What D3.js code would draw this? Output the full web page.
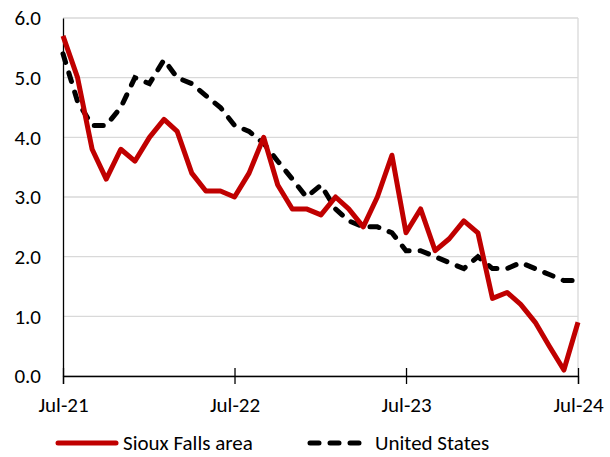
<!DOCTYPE html>
<html>
<head>
<meta charset="utf-8">
<script src="https://cdn.jsdelivr.net/npm/d3@7"></script>
<style>
  body { margin: 0; background: #fff; }
  text { font-family: Carlito, Calibri, "Liberation Sans", sans-serif; fill: #000; }
</style>
</head>
<body>
<div id="chart"></div>
<script>
// monthly, Jul-21 .. Jul-24
var startMonth = new Date(2021, 6, 1);
var siouxFalls = [5.7, 5.0, 3.8, 3.3, 3.8, 3.6, 4.0, 4.3, 4.1, 3.4, 3.1, 3.1, 3.0,
                  3.4, 4.0, 3.2, 2.8, 2.8, 2.7, 3.0, 2.8, 2.5, 3.0, 3.7, 2.4,
                  2.8, 2.1, 2.3, 2.6, 2.4, 1.3, 1.4, 1.2, 0.9, 0.5, 0.1, 0.9];
var unitedStates = [5.4, 4.6, 4.2, 4.2, 4.5, 5.0, 4.9, 5.3, 5.0, 4.9, 4.7, 4.5, 4.2,
                    4.1, 3.9, 3.6, 3.3, 3.0, 3.2, 2.8, 2.6, 2.5, 2.5, 2.4, 2.1,
                    2.1, 2.0, 1.9, 1.8, 2.0, 1.8, 1.8, 1.9, 1.8, 1.7, 1.6, 1.6];
var xTickLabels = ["Jul-21", "Jul-22", "Jul-23", "Jul-24"];
var yTicks = [0, 1, 2, 3, 4, 5, 6];
var seriesNames = ["Sioux Falls area", "United States"];

var width = 610, height = 457;
var margin = {top: 18, right: 32, bottom: 81, left: 63};
var w = width - margin.left - margin.right,
    h = height - margin.top - margin.bottom;
var fontSize = "21px";

var svg = d3.select("#chart").append("svg")
    .attr("width", width)
    .attr("height", height);

var g = svg.append("g")
    .attr("transform", "translate(" + margin.left + "," + margin.top + ")");

var dates = siouxFalls.map(function(d, i) { return d3.timeMonth.offset(startMonth, i); });

var x = d3.scaleTime()
    .domain([dates[0], dates[dates.length - 1]])
    .range([0, w]);
var y = d3.scaleLinear()
    .domain([0, 6])
    .range([h, 0]);

// gridlines
g.append("g")
    .selectAll("line")
    .data(yTicks)
    .enter()
    .append("line")
        .attr("x1", 0)
        .attr("x2", w)
        .attr("y1", function(d) { return y(d); })
        .attr("y2", function(d) { return y(d); })
        .attr("stroke", "#d9d9d9")
        .attr("stroke-width", 1.3);

// right border
g.append("line")
    .attr("x1", w).attr("x2", w)
    .attr("y1", 0).attr("y2", h)
    .attr("stroke", "#d9d9d9")
    .attr("stroke-width", 1.3);

// y axis
var yAxis = g.append("g")
    .call(d3.axisLeft(y).tickValues(yTicks).tickSize(0).tickPadding(22)
          .tickFormat(d3.format(".1f")));
yAxis.select(".domain").attr("stroke", "#000").attr("stroke-width", 1.3);
yAxis.selectAll("text")
    .style("font-size", fontSize)
    .style("font-family", "Carlito, Calibri, 'Liberation Sans', sans-serif");

// x axis with crossing ticks
var xTickDates = xTickLabels.map(function(d, i) { return d3.timeMonth.offset(startMonth, i * 12); });
var xAxis = g.append("g")
    .attr("transform", "translate(0," + h + ")")
    .call(d3.axisBottom(x).tickValues(xTickDates).tickSize(8).tickPadding(13)
          .tickFormat(function(d, i) { return xTickLabels[i]; }));
xAxis.select(".domain").attr("stroke", "#000").attr("stroke-width", 1.3);
xAxis.selectAll(".tick line")
    .attr("y1", -8)
    .attr("stroke", "#000")
    .attr("stroke-width", 1.3);
xAxis.selectAll("text")
    .style("font-size", fontSize)
    .style("font-family", "Carlito, Calibri, 'Liberation Sans', sans-serif");

var line = d3.line()
    .x(function(d, i) { return x(dates[i]); })
    .y(function(d) { return y(d); });

g.append("path")
    .datum(unitedStates)
    .attr("fill", "none")
    .attr("stroke", "#000")
    .attr("stroke-width", 5)
    .attr("stroke-linecap", "round")
    .attr("stroke-dasharray", "9,11")
    .attr("d", line);

g.append("path")
    .datum(siouxFalls)
    .attr("fill", "none")
    .attr("stroke", "#c00000")
    .attr("stroke-width", 5)
    .attr("stroke-linejoin", "round")
    .attr("d", line);

// legend
var legend = svg.append("g").attr("transform", "translate(0,443)");
var legendItems = [
    {name: seriesNames[0], x: 58, color: "#c00000", dash: null},
    {name: seriesNames[1], x: 310, color: "#000", dash: "9,11"}
];
legendItems.forEach(function(item) {
    legend.append("line")
        .attr("x1", item.x).attr("x2", item.x + 58)
        .attr("y1", 0).attr("y2", 0)
        .attr("stroke", item.color)
        .attr("stroke-width", 5)
        .attr("stroke-linecap", "round")
        .attr("stroke-dasharray", item.dash);
    legend.append("text")
        .attr("x", item.x + 65)
        .attr("y", 0)
        .attr("dy", "0.35em")
        .style("font-size", fontSize)
        .text(item.name);
});
</script>
</body>
</html>
